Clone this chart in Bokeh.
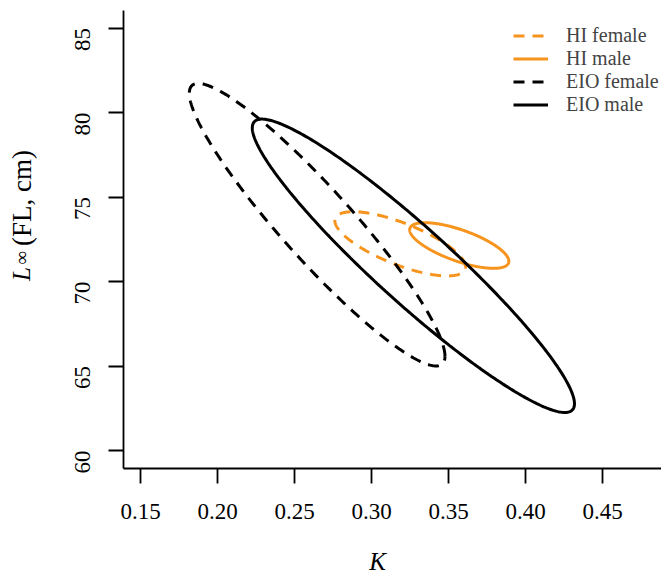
import math
import numpy as np
from bokeh.plotting import figure
from bokeh.layouts import row, column
from bokeh.models import Range1d, FixedTicker, Legend, LegendItem, PrintfTickFormatter
from bokeh.embed import file_html
from bokeh.resources import INLINE
from bokeh.core.properties import value

# ---- data ----
series_names = ["HI female", "HI male", "EIO female", "EIO male"]
series_colors = ["#F7941E", "#F7941E", "#000000", "#000000"]
series_dash = ["dashed", "solid", "dashed", "solid"]
# confidence-ellipse parameters for each group (K, L-infinity)
center_K = [0.3186, 0.357, 0.2647, 0.3272]
center_L = [72.23, 72.13, 73.36, 70.93]
half_K = [0.0424, 0.0322, 0.083, 0.1046]
half_L = [1.90, 1.35, 8.36, 8.68]
corr_KL = [-0.72, -0.69, -0.93, -0.94]

x_ticks = [0.15, 0.20, 0.25, 0.30, 0.35, 0.40, 0.45]
y_ticks = [60, 65, 70, 75, 80, 85]

FONT = "Liberation Serif"
W = 661
H_TOP = 535
H_BOT = 39
LEFT_W = 40


def blank(width, height):
    f = figure(width=width, height=height, output_backend="svg", toolbar_location=None,
               x_range=Range1d(0, width), y_range=Range1d(0, height),
               min_border_left=0, min_border_right=0, min_border_top=0, min_border_bottom=0)
    f.axis.visible = False
    f.grid.visible = False
    f.outline_line_color = None
    return f


# ---- narrow strip holding the y-axis title (italic L + rest) ----
ttl = blank(LEFT_W, H_TOP)
ttl.text(x=[21], y=[H_TOP - 316], text=["L"], angle=math.pi / 2, text_align="left",
         text_baseline="middle", text_font=value(FONT), text_font_style="italic",
         text_font_size="25px", text_color="black")
ttl.text(x=[21], y=[H_TOP - 297], text=["∞"], angle=math.pi / 2, text_align="left",
         text_baseline="middle", text_font=value(FONT),
         text_font_size="19px", text_color="black")
ttl.text(x=[21], y=[H_TOP - 275], text=["(FL, cm)"], angle=math.pi / 2, text_align="left",
         text_baseline="middle", text_font=value(FONT),
         text_font_size="27px", text_color="black")

# ---- main chart ----
p = figure(width=W - LEFT_W, height=H_TOP, output_backend="svg", toolbar_location=None,
           x_range=Range1d(0.13896, 0.48831), y_range=Range1d(58.935, 86.036),
           min_border_left=123 - LEFT_W, min_border_right=0, min_border_top=10,
           min_border_bottom=67)
p.outline_line_color = None
p.grid.visible = False

t = np.linspace(0, 2 * math.pi, 361)
items = []
for name, col, dash, cx, cy, ax, ay, r in zip(series_names, series_colors, series_dash,
                                              center_K, center_L, half_K, half_L, corr_KL):
    xs = cx + ax * np.cos(t)
    ys = cy + ay * (r * np.cos(t) + math.sqrt(1 - r * r) * np.sin(t))
    rr = p.line(xs, ys, line_color=col, line_width=3,
                line_dash="11 8" if dash == "dashed" else "solid")
    items.append(LegendItem(label=name, renderers=[rr]))

legend = Legend(items=items, location=(390, 352), border_line_alpha=0,
                background_fill_alpha=0, padding=0, spacing=0,
                glyph_width=35, glyph_height=23, label_height=23, label_standoff=18,
                label_text_font=FONT, label_text_font_size="20px")
p.add_layout(legend)

for axis in (p.xaxis[0], p.yaxis[0]):
    axis.axis_line_width = 1.8
    axis.major_tick_line_width = 1.8
    axis.major_tick_out = 15
    axis.major_tick_in = 0
    axis.minor_tick_out = 0
    axis.minor_tick_in = 0
    axis.major_label_text_font = FONT
    axis.major_label_text_font_size = "23px"
    axis.major_label_text_color = "black"

p.xaxis[0].ticker = FixedTicker(ticks=x_ticks)
p.xaxis[0].formatter = PrintfTickFormatter(format="%.2f")
p.xaxis[0].major_label_standoff = 20

p.yaxis[0].ticker = FixedTicker(ticks=y_ticks)
p.yaxis[0].major_label_orientation = math.pi / 2
p.yaxis[0].major_label_standoff = 26

# ---- bottom strip holding the x-axis title ----
bot = blank(W, H_BOT)
bot.text(x=[377], y=[13], text=["K"], text_align="center", text_baseline="middle",
         text_font=value(FONT), text_font_style="italic", text_font_size="25px",
         text_color="black")

layout = column(row(ttl, p, spacing=0), bot, spacing=0)
open("out.html", "w").write(file_html(layout, INLINE))
